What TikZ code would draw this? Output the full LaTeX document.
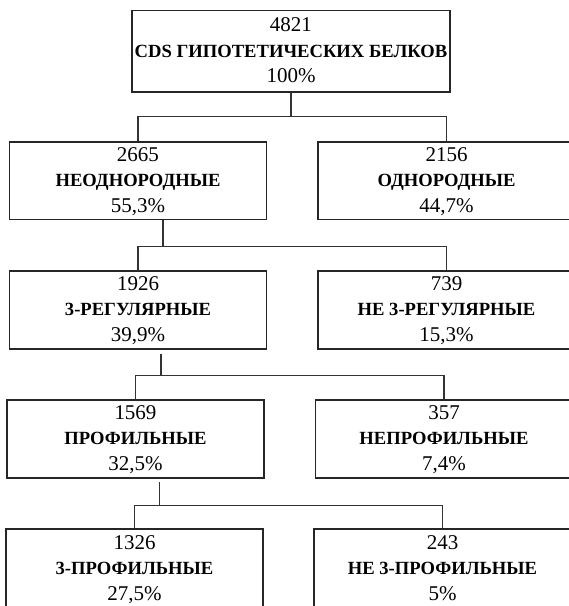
\documentclass[tikz,border=0pt]{standalone}
\usepackage{fontspec}
\setmainfont{Liberation Serif}
\usepackage{tikz}
\newcommand{\bl}[1]{{\fontsize{18.6}{25.5}\selectfont\bfseries #1}}
\newcommand{\sfirst}{\rule{0pt}{15pt}}
\newcommand{\slast}{\rule[-3pt]{0pt}{3pt}}

\begin{document}
\begin{tikzpicture}[x=1pt, y=-1pt,
  box/.style={draw=black!85, line width=1.7, inner sep=0, align=center,
    minimum width=257, minimum height=77.6, font=\fontsize{21}{25.5}\selectfont},
  link/.style={draw=black!80, line width=1.7}]
\useasboundingbox (0,0) rectangle (569,606);
\clip (0,0) rectangle (569,606);

\node[box, minimum width=318, minimum height=81.5] (root) at (291,51.2)
  {\sfirst 4821\\\bl{CDS ГИПОТЕТИЧЕСКИХ БЕЛКОВ}\\100\%\slast};

\node[box] (neodn) at (138,180.7) {\sfirst 2665\\\bl{НЕОДНОРОДНЫЕ}\\55,3\%\slast};
\node[box] (odn) at (446.5,180.7) {\sfirst 2156\\\bl{ОДНОРОДНЫЕ}\\44,7\%\slast};

\node[box] (reg) at (138,309.9) {\sfirst 1926\\\bl{3-РЕГУЛЯРНЫЕ}\\39,9\%\slast};
\node[box] (nereg) at (446.5,309.9) {\sfirst 739\\\bl{НЕ 3-РЕГУЛЯРНЫЕ}\\15,3\%\slast};

\node[box] (prof) at (135.5,439) {\sfirst 1569\\\bl{ПРОФИЛЬНЫЕ}\\32,5\%\slast};
\node[box] (neprof) at (444,439) {\sfirst 357\\\bl{НЕПРОФИЛЬНЫЕ}\\7,4\%\slast};

\node[box, minimum height=79] (tprof) at (134.5,568.7) {\sfirst 1326\\\bl{3-ПРОФИЛЬНЫЕ}\\27,5\%\slast};
\node[box, minimum height=79] (netprof) at (442.5,568.7) {\sfirst 243\\\bl{НЕ 3-ПРОФИЛЬНЫЕ}\\5\%\slast};

\coordinate (b1) at (291,116.5);
\coordinate (b2) at (163,246.5);
\coordinate (b3) at (161,375.5);
\coordinate (b4) at (159.5,505.5);

\draw[link] (root.south) -- (b1);
\draw[link] (neodn.north) |- (odn.north |- b1) -- (odn.north);

\draw[link] (neodn.south -| b2) -- (b2);
\draw[link] (reg.north) |- (nereg.north |- b2) -- (nereg.north);

\draw[link] ([yshift=-4]reg.south -| b3) -- (b3);
\draw[link] (prof.north) |- (neprof.north |- b3) -- (neprof.north);

\draw[link] ([yshift=-3]prof.south -| b4) -- (b4);
\draw[link] (tprof.north) |- (netprof.north |- b4) -- (netprof.north);
\end{tikzpicture}
\end{document}
